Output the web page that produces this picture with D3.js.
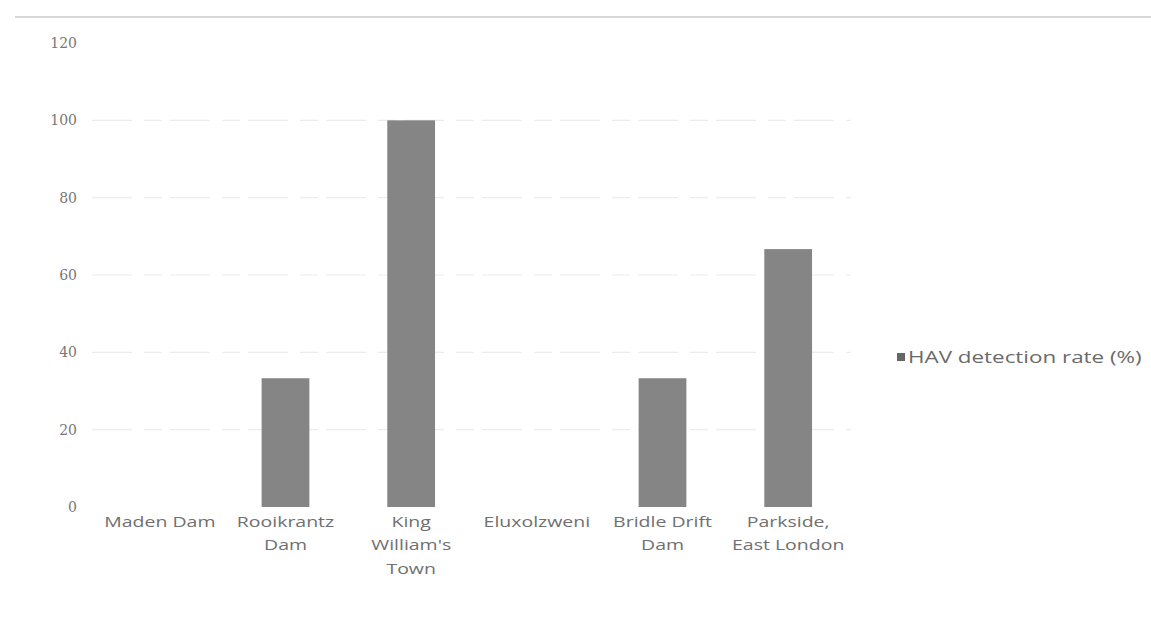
<!DOCTYPE html>
<html><head><meta charset="utf-8">
<script src="https://cdn.jsdelivr.net/npm/d3@7"></script>
<style>body{margin:0;background:#fff}</style>
</head><body>
<svg id="c" width="1151" height="637"></svg>
<script>
const categories = ["Maden Dam", "Rooikrantz Dam", "King William's Town", "Eluxolzweni", "Bridle Drift Dam", "Parkside, East London"];
const labelLines = [["Maden Dam"], ["Rooikrantz", "Dam"], ["King", "William's", "Town"], ["Eluxolzweni"], ["Bridle Drift", "Dam"], ["Parkside,", "East London"]];
const values = [0, 33.3, 100, 0, 33.3, 66.7];
const yTicks = [0, 20, 40, 60, 80, 100, 120];
const seriesName = "HAV detection rate (%)";

const svg = d3.select("#c");
const x = d3.scaleBand().domain(categories).range([97, 851]).paddingInner(0.62).paddingOuter(0.31);
const y = d3.scaleLinear().domain([0, 120]).range([507, 43]);

// top rule
svg.append("line").attr("x1", 15).attr("x2", 1151).attr("y1", 17).attr("y2", 17)
  .attr("stroke", "#b0b0b0").attr("stroke-width", 1.2);

// gridlines
svg.append("g").selectAll("line").data(yTicks.filter(d => d > 0 && d < 120)).join("line")
  .attr("x1", 92).attr("x2", 851).attr("y1", d => y(d)).attr("y2", d => y(d))
  .attr("stroke", "#ececec").attr("stroke-width", 1.2).attr("stroke-dasharray", "40,12,18,8");

// y axis labels
const yAxis = d3.axisLeft(y).tickValues(yTicks).tickSize(0).tickPadding(0);
const ga = svg.append("g").attr("transform", "translate(77,0)").call(yAxis);
ga.select(".domain").remove();
ga.selectAll("text").attr("fill", "#777").attr("font-family", "DejaVu Serif, serif")
  .attr("font-size", 14);

// bars
svg.append("g").selectAll("rect").data(values).join("rect")
  .attr("x", (d, i) => x(categories[i]))
  .attr("width", x.bandwidth())
  .attr("y", d => y(d))
  .attr("height", d => y(0) - y(d))
  .attr("fill", "#858585");

// x labels
const gx = svg.append("g");
categories.forEach((c, i) => {
  const cx = x(c) + x.bandwidth() / 2;
  const t = gx.append("text").attr("transform", `translate(${cx},527) scale(1.3,1)`)
    .attr("text-anchor", "middle").attr("fill", "#707070")
    .attr("font-family", "Open Sans, sans-serif").attr("font-size", 15);
  labelLines[i].forEach((l, j) => t.append("tspan").attr("x", 0).attr("y", j * 23.5).text(l));
});

// legend
svg.append("rect").attr("x", 897).attr("y", 353).attr("width", 8).attr("height", 8).attr("fill", "#666");
svg.append("text").attr("transform", "translate(908,363) scale(1.4,1)").attr("fill", "#6a6a6a")
  .attr("font-family", "Open Sans, sans-serif").attr("font-size", 16).text(seriesName);
</script>
</body></html>
